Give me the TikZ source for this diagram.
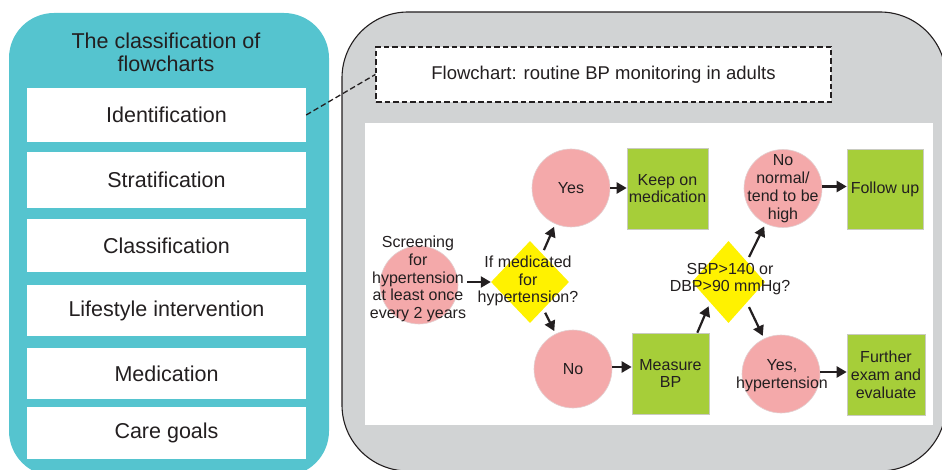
\documentclass[tikz,border=0pt]{standalone}
\usepackage{fontspec}
\setmainfont{Liberation Sans}
\usetikzlibrary{shapes.geometric,arrows.meta,calc}
\definecolor{tealpanel}{HTML}{55C4CF}
\definecolor{greypanel}{HTML}{D1D3D4}
\definecolor{pinkc}{HTML}{F4A9AA}
\definecolor{pinkedge}{HTML}{E3CFD0}
\definecolor{greenb}{HTML}{A6CE39}
\definecolor{greenedge}{HTML}{C9CBC0}
\definecolor{yellowd}{HTML}{FFF200}
\definecolor{inkc}{HTML}{231F20}
\begin{document}
\begin{tikzpicture}[x=1pt,y=-1pt,
  leftfont/.style={font=\fontsize{21.5}{23}\selectfont},
  flowfont/.style={font=\fontsize{16}{17.8}\selectfont},
  lbox/.style={fill=white, draw=none, minimum width=279pt, inner sep=0pt, text=inkc, leftfont},
  pcirc/.style={circle, fill=pinkc, draw=pinkedge, line width=0.6pt, minimum size=#1, inner sep=0pt, text=inkc, flowfont},
  pcirc/.default=78pt,
  gbox/.style={fill=greenb, draw=greenedge, line width=0.6pt, inner sep=0pt, align=center, text=inkc, flowfont},
  ydiam/.style={diamond, fill=yellowd, draw=none, inner sep=0pt},
  ftext/.style={align=center, inner sep=1pt, text=inkc, flowfont},
  arr/.style={draw=inkc, line width=2.2pt, -{Triangle[length=10pt,width=11pt]}},
  dashline/.style={draw=inkc, line width=1.3pt, dash pattern=on 5.5pt off 3pt}
]
\useasboundingbox (0,0) rectangle (942,470);
\clip (0,0) rectangle (942,470);

% left panel
\fill[tealpanel, rounded corners=45pt] (9,13) rectangle (329,476);
\node[leftfont, align=center, text=inkc] (ltitle) at (166,52.5) {The classification of\\flowcharts};
\node[lbox, minimum height=54pt] (ident) at (166.5,115) {Identification};
\node[lbox, minimum height=56pt] (strat) at (166.5,180) {Stratification};
\node[lbox, minimum height=53pt] (class) at (166.5,245.5) {Classification};
\node[lbox, minimum height=51pt] (life) at (166.5,310.5) {Lifestyle intervention};
\node[lbox, minimum height=51pt] (medi) at (166.5,373.5) {Medication};
\node[lbox, minimum height=52pt] (care) at (166.5,433) {Care goals};

% right panel
\filldraw[fill=greypanel, draw=inkc, line width=1.1pt, rounded corners=66pt] (342,12) rectangle (946,471);
\node[fill=white, dashline, minimum width=455pt, minimum height=55pt, inner sep=0pt,
      text=inkc, font=\fontsize{18.5}{20}\selectfont] (tb) at (603.5,74.5) {Flowchart: routine BP monitoring in adults};
\fill[white] (365,123) rectangle (933,425);

\draw[dashline] (ident.east) -- (tb.west);

% flowchart nodes
\node[pcirc] (scr) at (419,285) {};
\node[ftext] (scrt) at (418,279) {Screening\\for\\hypertension\\at least once\\every 2 years};
\node[ydiam, minimum width=78pt, minimum height=82pt] (d1) at (530,282) {};
\node[ftext] (d1t) at (528,281) {If medicated\\for\\hypertension?};
\node[pcirc] (yes) at (571,188) {Yes};
\node[pcirc] (no) at (573,369) {No};
\node[gbox, minimum width=81pt, minimum height=81pt] (keep) at (667.5,188.5) {Keep on\\medication};
\node[gbox, minimum width=77pt, minimum height=81pt] (meas) at (670.5,373.5) {Measure\\BP};
\node[ydiam, minimum width=73pt, minimum height=82pt] (d2) at (728.5,282) {};
\node[ftext] (d2t) at (730,279) {SBP>140 or\\DBP>90 mmHg?};
\node[pcirc] (nn) at (783,188.5) {};
\node[ftext] (nnt) at (783,188.5) {No\\normal/\\tend to be\\high};
\node[pcirc] (yh) at (781,374) {};
\node[ftext] (yht) at (782,375.5) {Yes,\\hypertension};
\node[gbox, minimum width=76pt, minimum height=80pt] (fu) at (885,189) {Follow up};
\node[gbox, minimum width=78pt, minimum height=81pt] (fe) at (886,374.5) {Further\\exam and\\evaluate};

% connectors
\draw[arr] (scrt.east |- d1.west) -- (d1.west);
\draw[arr, shorten <=4pt, shorten >=3pt] (d1) -- (yes);
\draw[arr, shorten <=4pt, shorten >=3pt] (d1) -- (no);
\draw[arr] (yes.east) -- (yes.east -| keep.west);
\draw[arr] ([yshift=2pt]no.east) -- ([yshift=2pt]no.east -| meas.west);
\draw[arr, shorten >=4pt] ([xshift=-12pt]meas.north east) -- (d2.south west);
\draw[arr, shorten <=5pt, shorten >=3pt] (d2.north east) -- (nn);
\draw[arr, shorten <=5pt, shorten >=3pt] (d2.south east) -- (yh);
\draw[arr] ([yshift=2pt]nn.east) -- ([yshift=2pt]nn.east -| fu.west);
\draw[arr] ([yshift=2pt]yh.east) -- ([yshift=2pt]yh.east -| fe.west);
\end{tikzpicture}
\end{document}
